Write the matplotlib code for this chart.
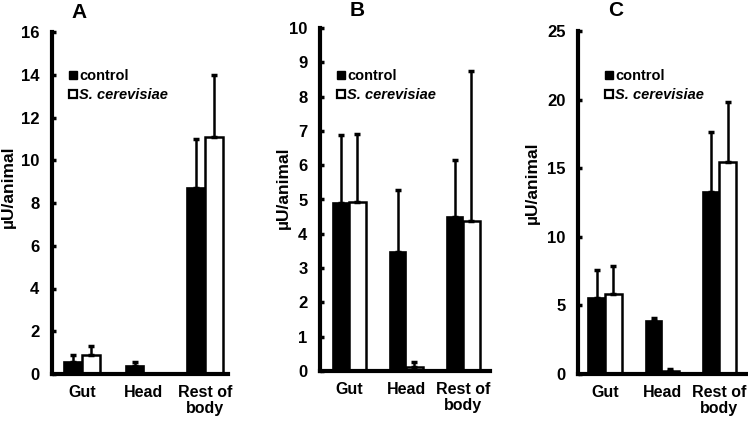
import matplotlib
matplotlib.use("Agg")
import matplotlib.pyplot as plt
from matplotlib.lines import Line2D
import numpy as np

plt.rcParams['font.family'] = ['Liberation Sans', 'DejaVu Sans']
plt.rcParams['font.weight'] = 'bold'

categories = ["Gut", "Head", "Rest of\nbody"]
series_names = ["control", "S. cerevisiae"]
panel_titles = ["A", "B", "C"]

control_A = [0.57, 0.37, 8.69]
control_A_err = [0.87, 0.58, 10.99]
cerev_A = [0.89, 0.0, 11.1]
cerev_A_err = [1.33, 0.0, 14.0]

control_B = [4.91, 3.46, 4.50]
control_B_err = [6.88, 5.27, 6.15]
cerev_B = [4.93, 0.12, 4.37]
cerev_B_err = [6.91, 0.26, 8.75]

control_C = [5.51, 3.86, 13.23]
control_C_err = [7.57, 4.05, 17.65]
cerev_C = [5.83, 0.24, 15.46]
cerev_C_err = [7.86, 0.36, 19.83]

ymax = [16, 10, 25]
ysteps = [2, 1, 5]

W, H = 748, 422
fig = plt.figure(figsize=(W/100, H/100), dpi=100)

# axes boxes in pixels: left, right, bottom(y of zero), top
boxes = [(52, 228, 374, 32), (320, 490, 371, 28), (578, 748, 374, 31)]
xlims = [(-0.49, 2.37), (-0.51, 2.47), (-0.47, 2.5)]
leg_pos = [(69, 69), (337, 69), (605, 69)]
title_pos = [(79, 12), (357, 11), (616, 11)]
ylabel_pos = [(8, 187), (283, 188), (532, 183)]

data = [(control_A, control_A_err, cerev_A, cerev_A_err),
        (control_B, control_B_err, cerev_B, cerev_B_err),
        (control_C, control_C_err, cerev_C, cerev_C_err)]

bw = 0.29
for i in range(3):
    l, r, b, t = boxes[i]
    ax = fig.add_axes([l/W, 1-b/H, (r-l)/W, (b-t)/H])
    c, ce, s, se = data[i]
    x = np.arange(len(categories))
    c = np.array(c); ce = np.array(ce); s = np.array(s); se = np.array(se)
    ax.bar(x - bw/2, c, bw, color='black', edgecolor='black', linewidth=1.2, zorder=2)
    ax.bar(x + bw/2, s, bw, color='white', edgecolor='black', linewidth=1.8, zorder=2)
    ax.errorbar(x - bw/2, c, yerr=[np.zeros_like(c), ce - c], fmt='none',
                ecolor='black', elinewidth=1.8, capsize=2.5, capthick=2.5, zorder=3)
    mask = s > 0
    ax.errorbar((x + bw/2)[mask], s[mask], yerr=[np.zeros(mask.sum()), (se - s)[mask]],
                fmt='none', ecolor='black', elinewidth=1.8, capsize=2.5, capthick=2.5, zorder=3)
    ax.set_xlim(*xlims[i])
    ax.set_ylim(0, ymax[i])
    ax.set_yticks(np.arange(0, ymax[i] + 0.01, ysteps[i]))
    ax.set_xticks(x)
    ax.set_xticklabels(categories, fontsize=11.5, fontweight='bold', linespacing=1.05)
    ax.tick_params(axis='x', length=0, pad=8)
    ax.tick_params(axis='y', length=3, width=2.5, direction='in', pad=9, labelsize=12)
    for lab in ax.get_yticklabels():
        lab.set_fontweight('bold')
    for sp in ['top', 'right']:
        ax.spines[sp].set_visible(False)
    for sp in ['left', 'bottom']:
        ax.spines[sp].set_linewidth(3)
    ax.set_ylabel("µU/animal", fontsize=12.5, fontweight='bold', va='center')
    lx, ly = ylabel_pos[i]
    ax.yaxis.set_label_coords(lx/W, 1-ly/H, transform=fig.transFigure)
    ax.patch.set_alpha(0)
    tx, ty = title_pos[i]
    fig.text(tx/W, 1-ty/H, panel_titles[i], fontsize=15, fontweight='bold',
             ha='center', va='center')
    handles = [Line2D([], [], marker='s', linestyle='none', markersize=5.5,
                      markerfacecolor='black', markeredgecolor='black'),
               Line2D([], [], marker='s', linestyle='none', markersize=6,
                      markerfacecolor='white', markeredgecolor='black', markeredgewidth=1.6)]
    leg = ax.legend(handles, series_names, loc='upper left',
                    bbox_to_anchor=(leg_pos[i][0]/W, 1-leg_pos[i][1]/H),
                    bbox_transform=fig.transFigure, frameon=False,
                    handlelength=0.5, handletextpad=0.2, labelspacing=0.35,
                    borderpad=0, borderaxespad=0,
                    prop={'size': 10.5, 'weight': 'bold'})
    leg.get_texts()[1].set_fontstyle('italic')

fig.savefig("out.png", dpi=100)
